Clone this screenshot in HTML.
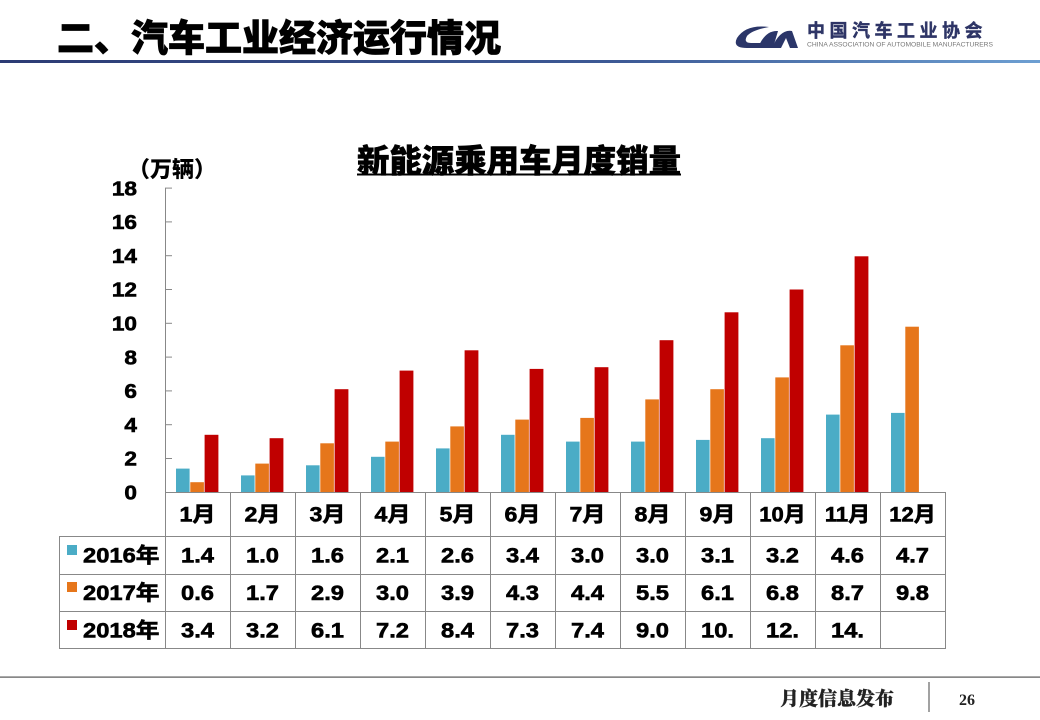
<!DOCTYPE html>
<html><head><meta charset="utf-8"><style>
html,body{margin:0;padding:0;background:#fff;}
svg{display:block;}
.n{font-family:"Liberation Sans","Noto Sans CJK SC",sans-serif;font-weight:bold;fill:#000;stroke:#000;stroke-width:0.6;}
.c{font-family:"Liberation Sans","Noto Sans CJK SC",sans-serif;font-weight:900;fill:#000;}
</style></head><body>
<svg width="1040" height="720" viewBox="0 0 1040 720" xmlns="http://www.w3.org/2000/svg">
<defs>
<linearGradient id="hl" x1="0" x2="1" y1="0" y2="0">
<stop offset="0" stop-color="#2c3b74"/><stop offset="0.6" stop-color="#3d5a96"/><stop offset="1" stop-color="#6d9fd2"/>
</linearGradient>
</defs>
<rect width="1040" height="720" fill="#fff"/>
<!-- header -->
<text x="57" y="51" font-size="37" fill="#000" stroke="#000" stroke-width="0.8" style="font-family:'Noto Sans CJK SC',sans-serif;font-weight:900;">二、汽车工业经济运行情况</text>
<rect x="0" y="60" width="1040" height="3" fill="url(#hl)"/>
<!-- logo -->
<path d="M769 27 Q746 24 737 38 Q732 48 747 48 L760 48 L764 43 L751 43 Q743 43 747 36 Q752 30 769 27 Z" fill="#2b3669"/>
<path d="M758 48 Q765 30 778 31 L773 48 Z" fill="#2b3669"/>
<path d="M772 48 Q780 29 792 31 L798 48 L790 48 L786 38 L781 48 Z" fill="#2b3669"/>
<text x="807" y="37" font-size="18" letter-spacing="4.5" fill="#2e3566" stroke="#2e3566" stroke-width="0.4" style="font-family:'Noto Sans CJK SC',sans-serif;font-weight:bold;">中国汽车工业协会</text>
<text x="807" y="46.5" font-size="6" textLength="186" lengthAdjust="spacingAndGlyphs" fill="#777" style="font-family:'Liberation Sans',sans-serif;">CHINA ASSOCIATION OF AUTOMOBILE MANUFACTURERS</text>

<!-- chart title -->
<text x="357" y="172" font-size="32" textLength="324" lengthAdjust="spacingAndGlyphs" class="c" stroke="#000" stroke-width="0.6" style="font-family:'Noto Sans CJK SC',sans-serif;font-weight:900;">新能源乘用车月度销量</text>
<rect x="357" y="173.5" width="324" height="2" fill="#000"/>
<text x="128" y="177" font-size="22" class="c" style="font-family:'Noto Sans CJK SC',sans-serif;font-weight:900;">（万辆）</text>

<!-- y axis -->
<g stroke="#888" stroke-width="1">
<line x1="165.5" y1="188" x2="165.5" y2="649"/>
<line x1="165" y1="188.1" x2="172" y2="188.1"/>
<line x1="165" y1="221.9" x2="172" y2="221.9"/>
<line x1="165" y1="255.7" x2="172" y2="255.7"/>
<line x1="165" y1="289.5" x2="172" y2="289.5"/>
<line x1="165" y1="323.3" x2="172" y2="323.3"/>
<line x1="165" y1="357.1" x2="172" y2="357.1"/>
<line x1="165" y1="390.9" x2="172" y2="390.9"/>
<line x1="165" y1="424.7" x2="172" y2="424.7"/>
<line x1="165" y1="458.5" x2="172" y2="458.5"/>
</g>
<g class="n" font-size="20" text-anchor="end">
<text transform="translate(137,195.3) scale(1.13,1)">18</text>
<text transform="translate(137,229.1) scale(1.13,1)">16</text>
<text transform="translate(137,262.9) scale(1.13,1)">14</text>
<text transform="translate(137,296.7) scale(1.13,1)">12</text>
<text transform="translate(137,330.5) scale(1.13,1)">10</text>
<text transform="translate(137,364.3) scale(1.13,1)">8</text>
<text transform="translate(137,398.1) scale(1.13,1)">6</text>
<text transform="translate(137,431.9) scale(1.13,1)">4</text>
<text transform="translate(137,465.7) scale(1.13,1)">2</text>
<text transform="translate(137,499.5) scale(1.13,1)">0</text>
</g>

<!-- bars -->
<g fill="#4bacc6">
<rect x="176" y="468.6" width="13.6" height="23.4"/>
<rect x="241" y="475.4" width="13.6" height="16.6"/>
<rect x="306" y="465.3" width="13.6" height="26.7"/>
<rect x="371" y="456.8" width="13.6" height="35.2"/>
<rect x="436" y="448.4" width="13.6" height="43.6"/>
<rect x="501" y="434.8" width="13.6" height="57.2"/>
<rect x="566" y="441.6" width="13.6" height="50.4"/>
<rect x="631" y="441.6" width="13.6" height="50.4"/>
<rect x="696" y="439.9" width="13.6" height="52.1"/>
<rect x="761" y="438.2" width="13.6" height="53.8"/>
<rect x="826" y="414.6" width="13.6" height="77.4"/>
<rect x="891" y="412.9" width="13.6" height="79.1"/>
</g>
<g fill="#e6761b">
<rect x="190.3" y="482.2" width="13.6" height="9.8"/>
<rect x="255.3" y="463.6" width="13.6" height="28.4"/>
<rect x="320.3" y="443.3" width="13.6" height="48.7"/>
<rect x="385.3" y="441.6" width="13.6" height="50.4"/>
<rect x="450.3" y="426.4" width="13.6" height="65.6"/>
<rect x="515.3" y="419.6" width="13.6" height="72.4"/>
<rect x="580.3" y="417.9" width="13.6" height="74.1"/>
<rect x="645.3" y="399.4" width="13.6" height="92.6"/>
<rect x="710.3" y="389.2" width="13.6" height="102.8"/>
<rect x="775.3" y="377.4" width="13.6" height="114.6"/>
<rect x="840.3" y="345.3" width="13.6" height="146.7"/>
<rect x="905.3" y="326.7" width="13.6" height="165.3"/>
</g>
<g fill="#c00000">
<rect x="204.6" y="434.8" width="13.8" height="57.2"/>
<rect x="269.6" y="438.2" width="13.8" height="53.8"/>
<rect x="334.6" y="389.2" width="13.8" height="102.8"/>
<rect x="399.6" y="370.6" width="13.8" height="121.4"/>
<rect x="464.6" y="350.3" width="13.8" height="141.7"/>
<rect x="529.6" y="368.9" width="13.8" height="123.1"/>
<rect x="594.6" y="367.2" width="13.8" height="124.8"/>
<rect x="659.6" y="340.2" width="13.8" height="151.8"/>
<rect x="724.6" y="312.3" width="13.8" height="179.7"/>
<rect x="789.6" y="289.5" width="13.8" height="202.5"/>
<rect x="854.6" y="256.3" width="13.8" height="235.7"/>
</g>

<!-- table grid -->
<g stroke="#888" stroke-width="1">
<line x1="165" y1="492.5" x2="946" y2="492.5"/>
<line x1="59" y1="536.5" x2="946" y2="536.5"/>
<line x1="59" y1="574.5" x2="946" y2="574.5"/>
<line x1="59" y1="611.5" x2="946" y2="611.5"/>
<line x1="59" y1="648.5" x2="946" y2="648.5"/>
<line x1="59.5" y1="536" x2="59.5" y2="649"/>
<line x1="230.5" y1="492" x2="230.5" y2="649"/>
<line x1="295.5" y1="492" x2="295.5" y2="649"/>
<line x1="360.5" y1="492" x2="360.5" y2="649"/>
<line x1="425.5" y1="492" x2="425.5" y2="649"/>
<line x1="490.5" y1="492" x2="490.5" y2="649"/>
<line x1="555.5" y1="492" x2="555.5" y2="649"/>
<line x1="620.5" y1="492" x2="620.5" y2="649"/>
<line x1="685.5" y1="492" x2="685.5" y2="649"/>
<line x1="750.5" y1="492" x2="750.5" y2="649"/>
<line x1="815.5" y1="492" x2="815.5" y2="649"/>
<line x1="880.5" y1="492" x2="880.5" y2="649"/>
<line x1="945.5" y1="492" x2="945.5" y2="649"/>
</g>

<!-- month labels -->
<g class="n" font-size="21" text-anchor="middle">
<text transform="translate(197.5,521.5) scale(1.1,1)">1月</text>
<text transform="translate(262.5,521.5) scale(1.1,1)">2月</text>
<text transform="translate(327.5,521.5) scale(1.1,1)">3月</text>
<text transform="translate(392.5,521.5) scale(1.1,1)">4月</text>
<text transform="translate(457.5,521.5) scale(1.1,1)">5月</text>
<text transform="translate(522.5,521.5) scale(1.1,1)">6月</text>
<text transform="translate(587.5,521.5) scale(1.1,1)">7月</text>
<text transform="translate(652.5,521.5) scale(1.1,1)">8月</text>
<text transform="translate(717.5,521.5) scale(1.1,1)">9月</text>
<text transform="translate(782.5,521.5) scale(1.05,1)">10月</text>
<text transform="translate(847.5,521.5) scale(1.05,1)">11月</text>
<text transform="translate(912.5,521.5) scale(1.05,1)">12月</text>
</g>

<!-- legend -->
<rect x="67" y="545" width="10" height="10" fill="#4bacc6"/>
<rect x="67" y="582" width="10" height="10" fill="#e6761b"/>
<rect x="67" y="620" width="10" height="10" fill="#c00000"/>
<g class="n" font-size="21">
<text transform="translate(83,562.5) scale(1.13,1)">2016年</text>
<text transform="translate(83,600) scale(1.13,1)">2017年</text>
<text transform="translate(83,637.5) scale(1.13,1)">2018年</text>
</g>

<!-- values -->
<g class="n" font-size="21" text-anchor="middle">
<text transform="translate(197.5,562.5) scale(1.13,1)">1.4</text>
<text transform="translate(262.5,562.5) scale(1.13,1)">1.0</text>
<text transform="translate(327.5,562.5) scale(1.13,1)">1.6</text>
<text transform="translate(392.5,562.5) scale(1.13,1)">2.1</text>
<text transform="translate(457.5,562.5) scale(1.13,1)">2.6</text>
<text transform="translate(522.5,562.5) scale(1.13,1)">3.4</text>
<text transform="translate(587.5,562.5) scale(1.13,1)">3.0</text>
<text transform="translate(652.5,562.5) scale(1.13,1)">3.0</text>
<text transform="translate(717.5,562.5) scale(1.13,1)">3.1</text>
<text transform="translate(782.5,562.5) scale(1.13,1)">3.2</text>
<text transform="translate(847.5,562.5) scale(1.13,1)">4.6</text>
<text transform="translate(912.5,562.5) scale(1.13,1)">4.7</text>

<text transform="translate(197.5,600) scale(1.13,1)">0.6</text>
<text transform="translate(262.5,600) scale(1.13,1)">1.7</text>
<text transform="translate(327.5,600) scale(1.13,1)">2.9</text>
<text transform="translate(392.5,600) scale(1.13,1)">3.0</text>
<text transform="translate(457.5,600) scale(1.13,1)">3.9</text>
<text transform="translate(522.5,600) scale(1.13,1)">4.3</text>
<text transform="translate(587.5,600) scale(1.13,1)">4.4</text>
<text transform="translate(652.5,600) scale(1.13,1)">5.5</text>
<text transform="translate(717.5,600) scale(1.13,1)">6.1</text>
<text transform="translate(782.5,600) scale(1.13,1)">6.8</text>
<text transform="translate(847.5,600) scale(1.13,1)">8.7</text>
<text transform="translate(912.5,600) scale(1.13,1)">9.8</text>

<text transform="translate(197.5,637.5) scale(1.13,1)">3.4</text>
<text transform="translate(262.5,637.5) scale(1.13,1)">3.2</text>
<text transform="translate(327.5,637.5) scale(1.13,1)">6.1</text>
<text transform="translate(392.5,637.5) scale(1.13,1)">7.2</text>
<text transform="translate(457.5,637.5) scale(1.13,1)">8.4</text>
<text transform="translate(522.5,637.5) scale(1.13,1)">7.3</text>
<text transform="translate(587.5,637.5) scale(1.13,1)">7.4</text>
<text transform="translate(652.5,637.5) scale(1.13,1)">9.0</text>
<text transform="translate(717.5,637.5) scale(1.13,1)">10.</text>
<text transform="translate(782.5,637.5) scale(1.13,1)">12.</text>
<text transform="translate(847.5,637.5) scale(1.13,1)">14.</text>
</g>

<!-- footer -->
<rect x="0" y="676.5" width="1040" height="1.2" fill="#555"/>
<text x="780" y="705" font-size="19" fill="#222" stroke="#222" stroke-width="0.3" style="font-family:'Noto Serif CJK SC','Noto Sans CJK SC',serif;font-weight:900;">月度信息发布</text>
<rect x="928.5" y="682" width="1" height="30" fill="#444"/>
<text x="967" y="705" font-size="16" text-anchor="middle" fill="#222" style="font-family:'Liberation Serif',serif;font-weight:bold;">26</text>
</svg>
</body></html>
